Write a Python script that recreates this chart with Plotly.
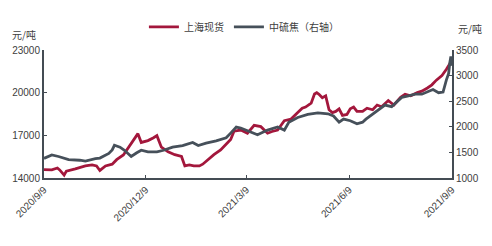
import plotly.graph_objects as go

red_dates = ["2020-09-09","2020-09-16","2020-09-21","2020-09-23","2020-09-27","2020-09-29","2020-10-07","2020-10-16","2020-10-22","2020-10-26","2020-10-29","2020-11-03","2020-11-09","2020-11-13","2020-11-19","2020-11-23","2020-11-28","2020-12-02","2020-12-05","2020-12-11","2020-12-16","2020-12-19","2020-12-23","2020-12-29","2021-01-04","2021-01-10","2021-01-13","2021-01-17","2021-01-21","2021-01-26","2021-01-29","2021-02-03","2021-02-08","2021-02-14","2021-02-19","2021-02-23","2021-02-26","2021-03-04","2021-03-10","2021-03-16","2021-03-22","2021-03-28","2021-04-01","2021-04-06","2021-04-12","2021-04-18","2021-04-24","2021-04-28","2021-05-01","2021-05-06","2021-05-09","2021-05-11","2021-05-13","2021-05-16","2021-05-19","2021-05-22","2021-05-25","2021-05-28","2021-05-31","2021-06-03","2021-06-07","2021-06-10","2021-06-13","2021-06-16","2021-06-21","2021-06-25","2021-06-30","2021-07-04","2021-07-08","2021-07-14","2021-07-19","2021-07-25","2021-07-29","2021-08-03","2021-08-09","2021-08-13","2021-08-18","2021-08-22","2021-08-26","2021-08-31","2021-09-04","2021-09-07","2021-09-09"]
red_values = [14590,14570,14700,14570,14200,14480,14640,14850,14920,14850,14530,14850,14970,15290,15620,16060,16610,17120,16500,16630,16830,16980,16170,15840,15640,15510,14850,14920,14850,14850,14970,15310,15640,15970,16370,16710,17290,17370,17150,17700,17610,17150,17270,17370,18030,18140,18600,18910,18990,19260,19910,20000,19890,19650,19780,18800,18600,18680,18860,18400,18470,18860,18990,18680,18680,18910,18800,19130,19010,19450,19130,19670,19890,19780,20000,20110,20330,20550,20880,21210,21640,21970,22280]

gray_dates = ["2020-09-09","2020-09-16","2020-09-22","2020-10-01","2020-10-11","2020-10-16","2020-10-25","2020-10-29","2020-11-06","2020-11-09","2020-11-11","2020-11-16","2020-11-20","2020-11-26","2020-12-01","2020-12-05","2020-12-11","2020-12-19","2020-12-25","2021-01-02","2021-01-11","2021-01-20","2021-01-25","2021-02-01","2021-02-10","2021-02-19","2021-02-23","2021-02-28","2021-03-04","2021-03-09","2021-03-16","2021-03-19","2021-03-28","2021-04-06","2021-04-12","2021-04-16","2021-04-24","2021-05-03","2021-05-12","2021-05-21","2021-05-26","2021-05-31","2021-06-04","2021-06-10","2021-06-16","2021-06-21","2021-06-24","2021-06-30","2021-07-05","2021-07-11","2021-07-17","2021-07-22","2021-07-26","2021-08-01","2021-08-07","2021-08-13","2021-08-19","2021-08-23","2021-08-28","2021-09-01","2021-09-04","2021-09-06","2021-09-07","2021-09-08","2021-09-09"]
gray_values = [1383,1451,1420,1360,1347,1329,1378,1389,1480,1548,1639,1602,1542,1420,1493,1542,1511,1511,1542,1602,1633,1694,1633,1681,1725,1785,1876,1995,1976,1936,1876,1845,1936,1998,1936,2090,2181,2241,2272,2254,2210,2090,2150,2119,2059,2090,2150,2241,2332,2424,2392,2484,2575,2606,2637,2637,2697,2728,2666,2679,2916,3044,3245,3373,3190]

x_ticks = ["2020-09-09","2020-12-09","2021-03-09","2021-06-09","2021-09-09"]
x_tick_labels = ["2020/9/9","2020/12/9","2021/3/9","2021/6/9","2021/9/9"]
left_ticks = [14000,17000,20000,23000]
right_ticks = [1000,1500,2000,2500,3000,3500]

series_names = ["上海现货","中硫焦（右轴）"]
unit = "元/吨"

RED = "#a3173c"
GRAY = "#46505a"
AXIS = "#444c54"
TXT = "#404040"

fig = go.Figure()
fig.add_trace(go.Scatter(x=red_dates, y=red_values, name=series_names[0], mode="lines",
                         line=dict(color=RED, width=2.8), yaxis="y"))
fig.add_trace(go.Scatter(x=gray_dates, y=gray_values, name=series_names[1], mode="lines",
                         line=dict(color=GRAY, width=2.8), yaxis="y2"))

tickfont = dict(family="Liberation Sans, Arial", size=10, color=TXT)
fig.update_layout(
    width=492, height=246,
    margin=dict(l=42, r=40, t=41, b=68),
    paper_bgcolor="white", plot_bgcolor="white",
    showlegend=True,
    legend=dict(orientation="h", x=0.49, xanchor="center", y=1.18, yanchor="middle",
                font=dict(family="Noto Sans CJK SC", size=10, color=TXT),
                itemwidth=30, tracegroupgap=0, bgcolor="rgba(0,0,0,0)"),
    xaxis=dict(type="date", range=["2020-09-09","2021-09-09"], tickmode="array",
               tickvals=x_ticks, ticktext=x_tick_labels, tickangle=-45,
               showgrid=False, zeroline=False, showline=True, linecolor=AXIS, linewidth=2,
               ticks="inside", ticklen=3, tickcolor=AXIS, tickfont=tickfont),
    yaxis=dict(range=[14000,23000], tickmode="array", tickvals=left_ticks, tickformat="d",
               showgrid=False, zeroline=False, showline=True, linecolor=AXIS, linewidth=2,
               ticks="inside", ticklen=3, tickcolor=AXIS, tickfont=tickfont),
    yaxis2=dict(range=[1000,3500], tickmode="array", tickvals=right_ticks, overlaying="y",
                tickformat="d",
                side="right", showgrid=False, zeroline=False, showline=True, linecolor=AXIS,
                linewidth=2, ticks="inside", ticklen=3, tickcolor=AXIS, tickfont=tickfont),
    annotations=[
        dict(text=unit, xref="paper", yref="paper", x=-0.015, xanchor="right", y=1.12, yanchor="middle",
             showarrow=False, font=dict(family="Noto Sans CJK SC", size=10, color=TXT)),
        dict(text=unit, xref="paper", yref="paper", x=1.01, xanchor="left", y=1.17, yanchor="middle",
             showarrow=False, font=dict(family="Noto Sans CJK SC", size=10, color=TXT)),
    ],
)
fig.write_html("out.html")
